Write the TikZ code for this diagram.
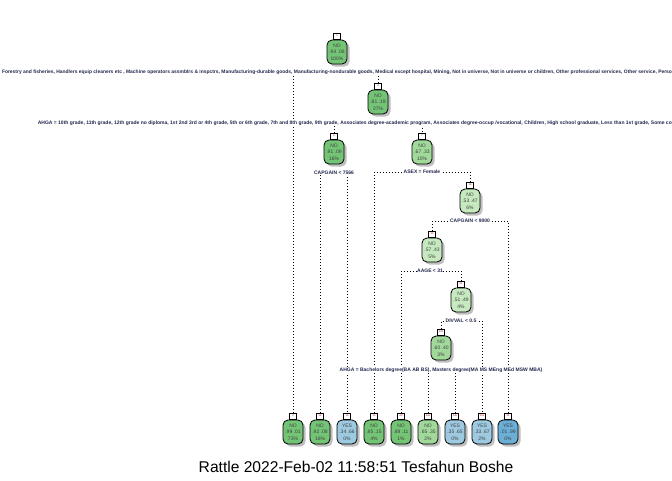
\documentclass[tikz,border=0pt]{standalone}
\usepackage{fontspec}
\setmainfont{Liberation Sans}
\usepackage{graphicx}
\usepackage{tikz}
\usetikzlibrary{positioning}
\usetikzlibrary{shadows}

\definecolor{gA}{HTML}{74C476}
\definecolor{gB}{HTML}{A1D99B}
\definecolor{gC}{HTML}{C7E9C0}
\definecolor{bA}{HTML}{9ECAE1}
\definecolor{bB}{HTML}{6BAED6}
\definecolor{lbl}{HTML}{23284F}

\begin{document}
\begin{tikzpicture}[x=1pt, y=-1pt,
        tnode/.style={draw, rounded corners=5pt, minimum width=20pt, minimum height=24pt, inner sep=0pt,
            align=center, line width=0.8pt, text=black!75, font=\fontsize{5}{6.5}\selectfont,
            drop shadow={shadow xshift=2.5pt, shadow yshift=-2.5pt, fill=black!25, opacity=1}},
        numbox/.style={draw, fill=white, minimum width=7.5pt, minimum height=6.5pt, inner sep=0pt, anchor=south,
            line width=0.6pt, text=red!70!black, font=\fontsize{2.5}{3}\selectfont},
        splitlbl/.style={fill=white, inner sep=0.6pt, text=lbl, font=\fontsize{5}{6}\bfseries\selectfont},
        link/.style={dash pattern=on 0.7pt off 2.3pt, line width=0.8pt, black},
    ]
    \useasboundingbox (0,0) rectangle (672,480);

    % inner nodes
    \node[tnode, fill=gA] (n1) at (337,52) {NO\\.94 .06\\100\%};
    \node[tnode, fill=gA] (n3) at (378,102) {NO\\.81 .19\\27\%};
    \node[tnode, fill=gA] (n6) at (334,152) {NO\\.91 .09\\16\%};
    \node[tnode, fill=gB] (n7) at (422,152) {NO\\.67 .33\\10\%};
    \node[tnode, fill=gC] (n15) at (470,201) {NO\\.53 .47\\6\%};
    \node[tnode, fill=gC] (n30) at (432,250) {NO\\.57 .43\\5\%};
    \node[tnode, fill=gC] (n61) at (461,300) {NO\\.51 .49\\4\%};
    \node[tnode, fill=gB] (n122) at (441,348) {NO\\.60 .40\\3\%};

    % leaves
    \node[tnode, fill=gA] (n2) at (293,432) {NO\\.99 .01\\73\%};
    \node[tnode, fill=gA] (n12) at (320,432) {NO\\.92 .08\\16\%};
    \node[tnode, fill=bA] (n13) at (347,432) {YES\\.34 .66\\0\%};
    \node[tnode, fill=gA] (n14) at (374,432) {NO\\.85 .15\\4\%};
    \node[tnode, fill=gA] (n60) at (401,432) {NO\\.89 .11\\1\%};
    \node[tnode, fill=gB] (n244) at (428,432) {NO\\.65 .35\\2\%};
    \node[tnode, fill=bA] (n245) at (455,432) {YES\\.35 .65\\0\%};
    \node[tnode, fill=bA] (n123) at (482,432) {YES\\.33 .67\\2\%};
    \node[tnode, fill=bB] (n31) at (508,432) {YES\\.01 .99\\0\%};

    % node numbers
    \foreach \k in {1,2,3,6,7,12,13,14,15,30,31,60,61,122,123,244,245}
        \node[numbox] (b\k) at (n\k.north) {\k};

    % split points
    \coordinate (c1) at (337,72);
    \coordinate (c3) at (378,123);
    \coordinate (c6) at (334,173);
    \coordinate (c7) at (422,172);
    \coordinate (c15) at (470,221);
    \coordinate (c30) at (430,271);
    \coordinate (c61) at (461,321);
    \coordinate (c122) at (441,370);

    \draw[link] (b2.north) |- (c1) -| (b3.north);
    \draw[link] (b6.north) |- (c3) -| (b7.north);
    \draw[link] (b12.north) |- (c6) -| (b13.north);
    \draw[link] (b14.north) |- (c7) -| (b15.north);
    \draw[link] (b30.north) |- (c15) -| (b31.north);
    \draw[link] (b60.north) |- (c30) -| (b61.north);
    \draw[link] (b122.north) |- (c61) -| (b123.north);
    \draw[link] (b244.north) |- (c122) -| (b245.north);

    % split labels
    \node[splitlbl] (s1) at (c1) {\resizebox{670pt}{!}{Forestry and fisheries, Handlers equip cleaners etc , Machine operators assmblrs \& inspctrs, Manufacturing-durable goods, Manufacturing-nondurable goods, Medical except hospital, Mining, Not in universe, Not in universe or children, Other professional services, Other service, Perso}};
    \node[splitlbl, anchor=west] (s3) at (37,123) {\resizebox{634pt}{!}{AHGA = 10th grade, 11th grade, 12th grade no diploma, 1st 2nd 3rd or 4th grade, 5th or 6th grade, 7th and 8th grade, 9th grade, Associates degree-academic program, Associates degree-occup /vocational, Children, High school graduate, Less than 1st grade, Some co}};
    \node[splitlbl] (s6) at (c6) {CAPGAIN < 7566};
    \node[splitlbl] (s7) at (c7) {ASEX = Female};
    \node[splitlbl] (s15) at (c15) {CAPGAIN < 9000};
    \node[splitlbl] (s30) at (c30) {AAGE < 31};
    \node[splitlbl] (s61) at (c61) {DIVVAL < 0.5};
    \node[splitlbl] (s122) at (c122) {AHGA = Bachelors degree(BA AB BS), Masters degree(MA MS MEng MEd MSW MBA)};

    \node[font=\fontsize{15.6}{18}\selectfont] (cap) at (356,467) {Rattle 2022-Feb-02 11:58:51 Tesfahun Boshe};
\end{tikzpicture}
\end{document}
